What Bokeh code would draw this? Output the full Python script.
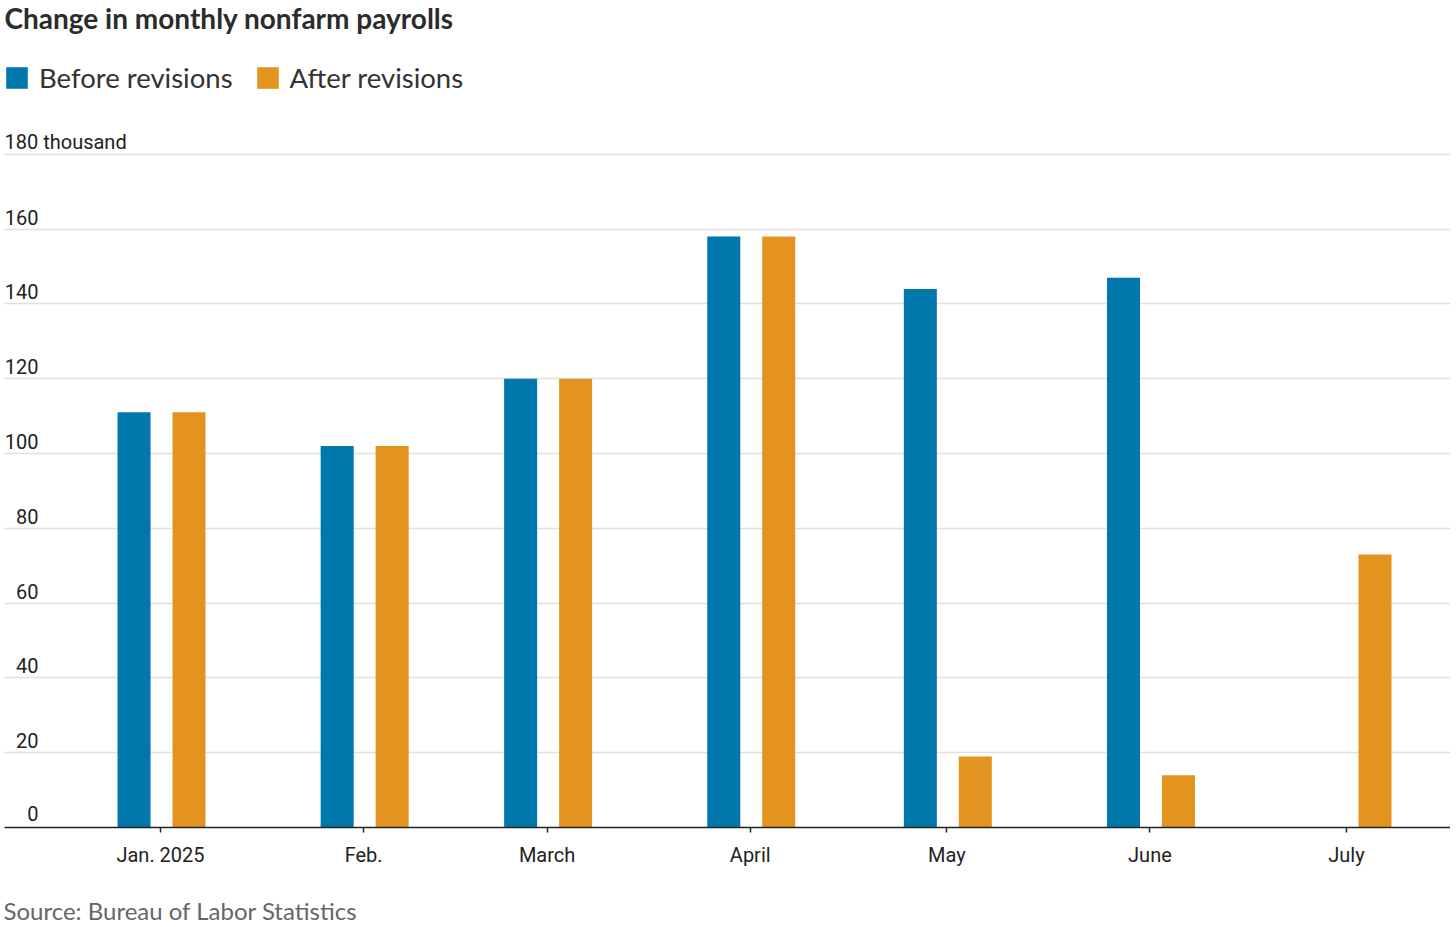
import pandas as pd
from bokeh.plotting import figure
from bokeh.layouts import column
from bokeh.models import Range1d, FixedTicker, Label, ColumnDataSource
from bokeh.embed import file_html
from bokeh.resources import INLINE

# ---- data ----
months = ["2025-01-01", "2025-02-01", "2025-03-01", "2025-04-01",
          "2025-05-01", "2025-06-01", "2025-07-01"]
month_labels = ["Jan. 2025", "Feb.", "March", "April", "May", "June", "July"]
before = [111, 102, 120, 158, 144, 147, None]
after = [111, 102, 120, 158, 19, 14, 73]
y_ticks = [0, 20, 40, 60, 80, 100, 120, 140, 160, 180]
y_tick_labels = ["0", "20", "40", "60", "80", "100", "120", "140", "160", "180 thousand"]
series_names = ["Before revisions", "After revisions"]
title_text = "Change in monthly nonfarm payrolls"
source_text = "Source: Bureau of Labor Statistics"

BLUE = "#0078AC"
ORANGE = "#E2941F"
DAY = pd.Timedelta(days=1)
TICK_FONT = "Roboto"
TEXT_FONT = "Lato"

dates = pd.to_datetime(months)
b_idx = [i for i, v in enumerate(before) if v is not None]
src_b = ColumnDataSource(dict(x=[dates[i] - 4.04 * DAY for i in b_idx],
                              top=[before[i] for i in b_idx]))
src_a = ColumnDataSource(dict(x=[d + 4.35 * DAY for d in dates], top=after))

W = 1450
H1, H2 = 880, 45
p = figure(width=W, height=H1, output_backend="svg", toolbar_location=None,
           x_axis_type="datetime", y_axis_location=None, title_location=None,
           x_range=Range1d(dates[0] - 23.81 * DAY, dates[-1] + 15.87 * DAY),
           y_range=Range1d(0, 221.1),
           min_border_left=4, min_border_right=0,
           min_border_top=0, min_border_bottom=H1 - 827)
p.outline_line_color = None
p.background_fill_color = "white"
p.border_fill_color = "white"

bar_w = 5.04 * 86400000
p.vbar(x="x", top="top", width=bar_w, source=src_b, fill_color=BLUE,
       line_color=None, legend_label=series_names[0])
p.vbar(x="x", top="top", width=bar_w, source=src_a, fill_color=ORANGE,
       line_color=None, legend_label=series_names[1])

# grid
p.xgrid.visible = False
p.ygrid.ticker = FixedTicker(ticks=y_ticks)
p.ygrid.grid_line_color = "#e0e0e0"
p.ygrid.grid_line_width = 1.6

# x axis
tick_ms = [d.value / 1e6 for d in dates]
ax = p.xaxis[0]
ax.ticker = FixedTicker(ticks=tick_ms)
ax.major_label_overrides = {t: lab for t, lab in zip(tick_ms, month_labels)}
ax.axis_line_color = "#222222"
ax.axis_line_width = 1.5
ax.major_tick_line_color = "#222222"
ax.major_tick_line_width = 1.5
ax.major_tick_out = 5
ax.major_tick_in = 0
ax.minor_tick_line_color = None
ax.major_label_standoff = 10
ax.major_label_text_font = TICK_FONT
ax.major_label_text_font_size = "20px"
ax.major_label_text_color = "#222222"

# y tick labels drawn inside the frame, above gridlines
for v, lab in zip(y_ticks, y_tick_labels):
    if lab == y_tick_labels[-1]:
        kw = dict(x=0, text_align="left")
    else:
        kw = dict(x=34, text_align="right")
    p.add_layout(Label(y=v, x_units="screen", y_units="data", text=lab,
                       text_baseline="alphabetic", y_offset=14 if v == 0 else 12,
                       text_font=TICK_FONT, text_font_size="20px",
                       text_color="#222222", **kw))

# legend
lg = p.legend[0]
lg.location = (-1, 733)
lg.orientation = "horizontal"
lg.padding = 0
lg.margin = 0
lg.spacing = 21
lg.border_line_color = None
lg.background_fill_alpha = 0
lg.glyph_width = 27
lg.glyph_height = 27
lg.label_height = 27
lg.label_standoff = 9
lg.label_text_font = TEXT_FONT
lg.label_text_font_size = "27.5px"
lg.label_text_color = "#333333"

# title
p.add_layout(Label(x=0, y=810, x_units="screen", y_units="screen", text=title_text,
                   text_align="left", text_baseline="alphabetic",
                   text_font=TEXT_FONT, text_font_style="bold", text_font_size="28px",
                   text_color="#2b2b2b"))

# source line (separate strip below the chart)
s = figure(width=W, height=H2, output_backend="svg", toolbar_location=None,
           x_axis_location=None, y_axis_location=None, title_location=None,
           x_range=Range1d(0, 1), y_range=Range1d(0, 1), min_border=0,
           min_border_left=0, min_border_right=0, min_border_top=0, min_border_bottom=0)
s.outline_line_color = None
s.xgrid.visible = False
s.ygrid.visible = False
s.add_layout(Label(x=-1, y=15, x_units="screen", y_units="screen", text=source_text,
                   text_align="left", text_baseline="alphabetic",
                   text_font=TEXT_FONT, text_font_size="24px", text_color="#666666"))

layout = column(p, s, spacing=0)
open("out.html", "w").write(file_html(layout, INLINE))
